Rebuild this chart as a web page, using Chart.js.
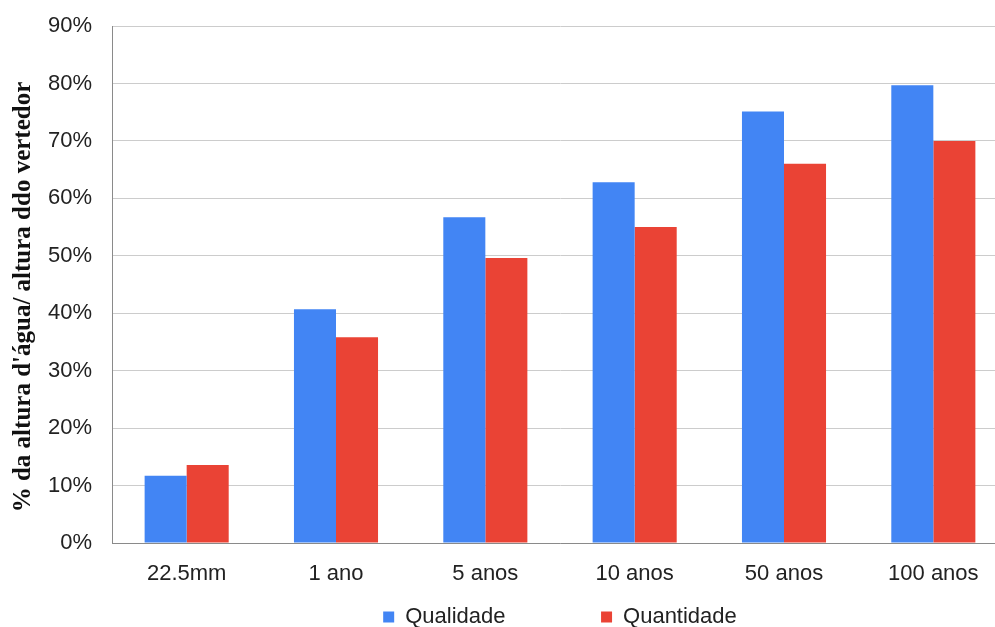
<!DOCTYPE html>
<html>
<head>
<meta charset="utf-8">
<script src="https://cdn.jsdelivr.net/npm/chart.js@4.4.0/dist/chart.umd.min.js"></script>
<style>
    html, body { margin: 0; padding: 0; background: #fff; overflow: hidden; }
    #wrap { width: 1008px; height: 627px; position: relative; }
</style>
</head>
<body>
<div id="wrap"><canvas id="myChart"></canvas></div>
<script>
// categorias (eventos de chuva) e séries
const categorias = ['22.5mm', '1 ano', '5 anos', '10 anos', '50 anos', '100 anos'];
const qualidade = [11.7, 40.7, 56.7, 62.8, 75.1, 79.7];
const quantidade = [13.6, 35.8, 49.6, 55.0, 66.0, 70.0];
const ticksY = [0, 10, 20, 30, 40, 50, 60, 70, 80, 90];

const fonte = "'Liberation Sans', Arial, sans-serif";

const data = {
    labels: categorias,
    datasets: [
        {
            label: 'Qualidade',
            data: qualidade,
            backgroundColor: '#4285F4',
            categoryPercentage: 0.563,
            barPercentage: 1.0
        },
        {
            label: 'Quantidade',
            data: quantidade,
            backgroundColor: '#EA4335',
            categoryPercentage: 0.563,
            barPercentage: 1.0
        }
    ]
};

const config = {
    type: 'bar',
    data: data,
    options: {
        responsive: true,
        maintainAspectRatio: false,
        animation: false,
        layout: {
            padding: { top: 26, right: 0, bottom: -11, left: 0 }
        },
        plugins: {
            tooltip: { enabled: false },
            legend: {
                position: 'bottom',
                fullSize: false,
                labels: {
                    boxWidth: 11,
                    boxHeight: 11,
                    padding: 10,
                    color: '#222',
                    font: { family: fonte, size: 22 },
                    generateLabels: (chart) => {
                        const itens = Chart.defaults.plugins.legend.labels.generateLabels(chart);
                        // espaço entre os dois itens da legenda
                        itens[0].text = itens[0].text + ' '.repeat(14);
                        return itens;
                    }
                }
            }
        },
        scales: {
            x: {
                grid: { display: false, drawTicks: false },
                border: { color: '#8a8a8a', width: 1 },
                ticks: {
                    padding: 18,
                    color: '#222',
                    font: { family: fonte, size: 22 }
                },
                afterFit: (scale) => { scale.height = 53; }
            },
            y: {
                min: 0,
                max: 90,
                afterBuildTicks: (scale) => {
                    scale.ticks = ticksY.map((v) => ({ value: v }));
                },
                grid: { color: '#cccccc', drawTicks: false },
                border: { color: '#8a8a8a', width: 1 },
                ticks: {
                    padding: 20,
                    color: '#222',
                    font: { family: fonte, size: 22 },
                    callback: (v) => v + '%'
                },
                title: {
                    display: true,
                    text: "% da altura d'água/ altura ddo vertedor    ",
                    color: '#111',
                    padding: { top: 9, bottom: 0 },
                    font: { family: "'Liberation Serif', 'Times New Roman', serif", size: 25, weight: 'bold' }
                },
                afterFit: (scale) => {
                    scale.width = 112;
                    scale.paddingTop = 0;
                    scale.paddingBottom = 0;
                }
            }
        }
    }
};

const myChart = new Chart(document.getElementById('myChart'), config);
</script>
</body>
</html>
